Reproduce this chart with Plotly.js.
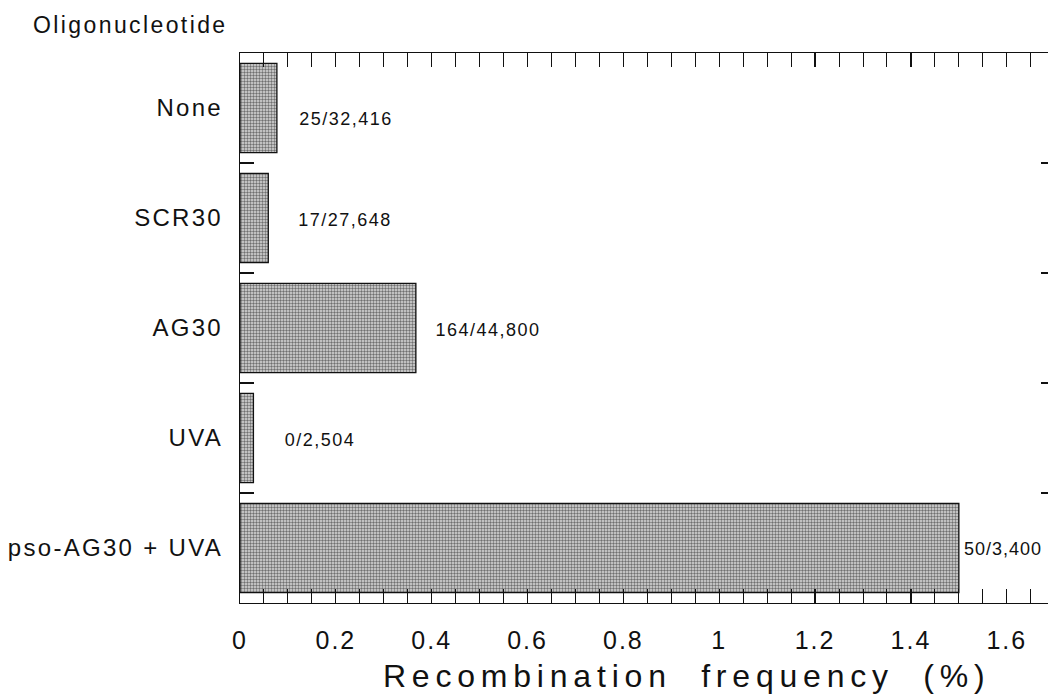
<!DOCTYPE html>
<html>
<head>
<meta charset="utf-8">
<script src="https://cdn.plot.ly/plotly-3.0.1.min.js"></script>
<style>
  html, body { margin: 0; padding: 0; background: #ffffff; }
  #chart { width: 1048px; height: 695px; }
</style>
</head>
<body>
<div id="chart"></div>
<script>
// ---- data ----
const categories = ["None", "SCR30", "AG30", "UVA", "pso-AG30 + UVA"];
const frequencies = [0.077, 0.059, 0.367, 0.028, 1.5];          // Recombination frequency (%)
const countLabels = ["25/32,416", "17/27,648", "164/44,800", "0/2,504", "50/3,400"];
const xTickValues = [0, 0.2, 0.4, 0.6, 0.8, 1, 1.2, 1.4, 1.6];
const xTickLabels = ["0", "0.2", "0.4", "0.6", "0.8", "1", "1.2", "1.4", "1.6"];

// ---- styling only ----
const labelShiftX = [27, 35, 25, 35, 7];
const labelShiftY = [-11, -2, -2, -2, -1];
const labelSpacing = [1.5, 1.5, 1.5, 1.5, 1];
const FONT = "Liberation Sans, Arial, Helvetica, sans-serif";

const bars = {
  type: "bar",
  orientation: "h",
  y: categories,
  x: frequencies,
  width: 0.81,
  marker: {
    color: "#c8c8c8",
    line: { color: "#111111", width: 1.3 },
    pattern: { shape: ".", size: 3, solidity: 0.5, fgcolor: "#707070", bgcolor: "#dcdcdc" }
  },
  hoverinfo: "skip",
  showlegend: false
};

// invisible twin trace to carry the right-hand tick marks
const ghost = {
  type: "bar",
  orientation: "h",
  y: categories,
  x: frequencies,
  yaxis: "y2",
  marker: { color: "rgba(0,0,0,0)" },
  hoverinfo: "skip",
  showlegend: false
};

const annotations = categories.map((c, i) => ({
  x: frequencies[i], y: c, xref: "x", yref: "y",
  text: countLabels[i], showarrow: false,
  xanchor: "left", yanchor: "middle", xshift: labelShiftX[i], yshift: labelShiftY[i],
  font: { family: FONT, size: 18, color: "#111" }
}));
annotations.push({
  x: -0.1354, y: 1.05, xref: "paper", yref: "paper",
  text: "Oligonucleotide", showarrow: false, xanchor: "center", yanchor: "middle",
  font: { family: FONT, size: 23, color: "#111" }
});
annotations.push({
  x: 0.553, y: -0.133, xref: "paper", yref: "paper",
  text: "Recombination  frequency  (%)", showarrow: false, xanchor: "center", yanchor: "middle",
  font: { family: FONT, size: 32, color: "#111" }
});

const layout = {
  width: 1048, height: 695,
  paper_bgcolor: "#ffffff", plot_bgcolor: "#ffffff",
  margin: { l: 239.5, r: 0, t: 52.7, b: 91.7, pad: 0 },
  bargap: 0.19,
  font: { family: FONT, color: "#111" },
  xaxis: {
    range: [0, 1.686],
    tickvals: xTickValues, ticktext: xTickLabels,
    ticks: "inside", ticklen: 14, tickwidth: 1.2, tickcolor: "#111",
    minor: { dtick: 0.05, tick0: 0, ticks: "inside", ticklen: 7, tickwidth: 1, tickcolor: "#111", showgrid: false },
    showline: true, linecolor: "#111", linewidth: 1.2, mirror: "allticks",
    showgrid: false, zeroline: false,
    tickfont: { family: FONT, size: 25, color: "#111" },
    ticklabelstandoff: 15
  },
  yaxis: {
    type: "category",
    categoryorder: "array", categoryarray: categories,
    range: [4.5, -0.5],
    tickson: "boundaries",
    ticks: "inside", ticklen: 14, tickwidth: 1.2, tickcolor: "#111",
    showline: true, linecolor: "#111", linewidth: 1.2,
    showgrid: false, zeroline: false,
    tickfont: { family: FONT, size: 24, color: "#111" },
    ticklabelstandoff: 11
  },
  yaxis2: {
    type: "category", overlaying: "y", side: "right",
    categoryorder: "array", categoryarray: categories,
    range: [4.5, -0.5],
    tickson: "boundaries",
    ticks: "inside", ticklen: 7, tickwidth: 1.2, tickcolor: "#111",
    showticklabels: false, showline: false, showgrid: false, zeroline: false
  },
  annotations: annotations
};

Plotly.newPlot("chart", [bars, ghost], layout, { displayModeBar: false, staticPlot: true }).then(gd => {
  const spacing = (el, px) => { el.style.letterSpacing = px + "px"; };
  gd.querySelectorAll(".ytick text").forEach(t => spacing(t, 2.3));
  gd.querySelectorAll(".xtick text").forEach(t => spacing(t, 2));
  gd.querySelectorAll(".annotation-text").forEach(t => {
    const txt = t.textContent;
    const k = countLabels.indexOf(txt);
    if (txt === "Oligonucleotide") spacing(t, 2.4);
    else if (txt.indexOf("Recombination") === 0) spacing(t, 5.8);
    else if (k >= 0) spacing(t, labelSpacing[k]);
  });
});
</script>
</body>
</html>
